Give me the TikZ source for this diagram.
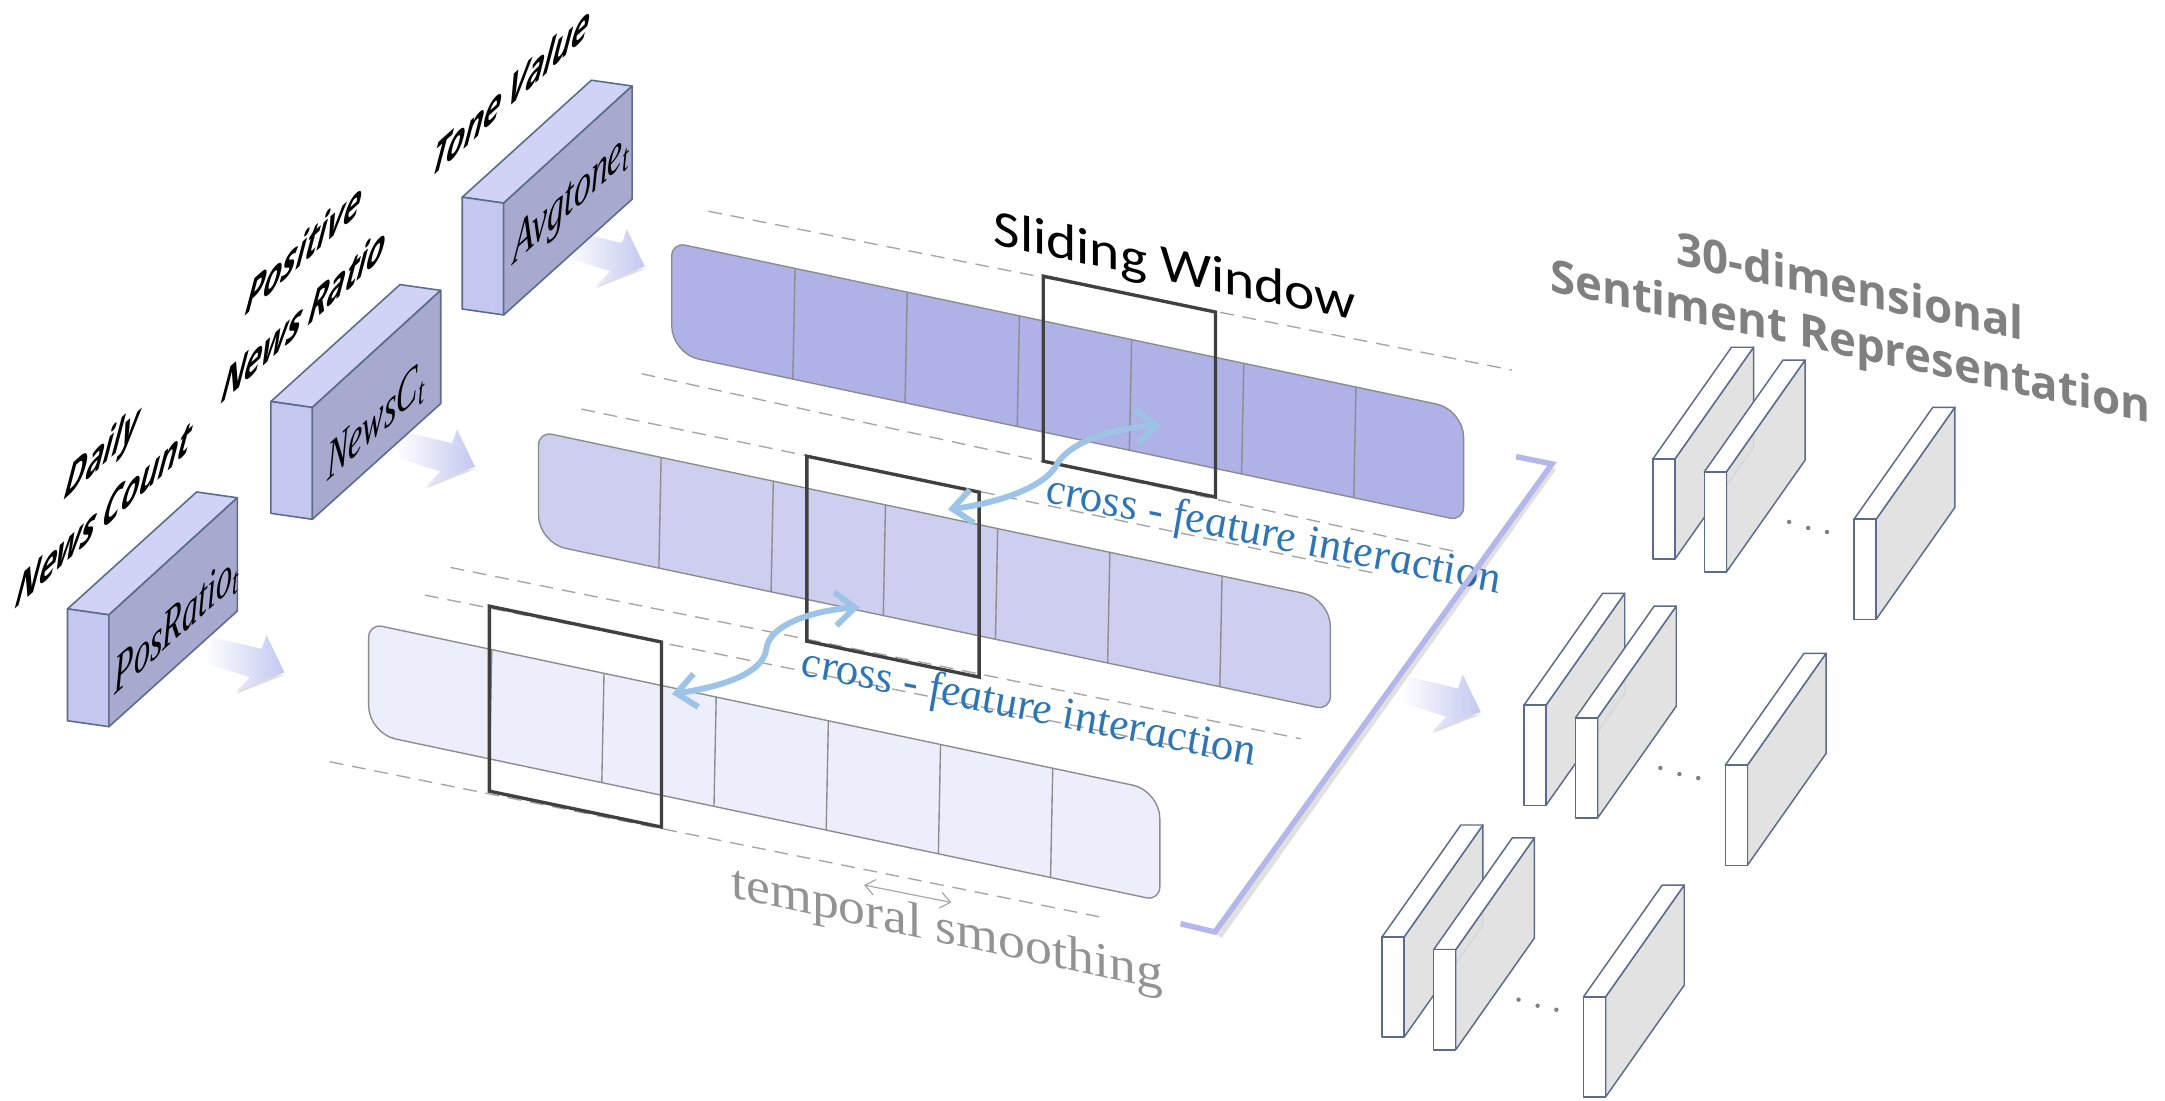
\documentclass[tikz,border=0pt]{standalone}
\usepackage{fontspec}
\setmainfont{Liberation Serif}
\newfontfamily\carlitofont{Carlito}
\newfontfamily\opensansfont{Open Sans}
\usetikzlibrary{arrows.meta,calc}
\definecolor{edgeblue}{HTML}{5B6B8C}
\definecolor{boxtop}{HTML}{D0D3F5}
\definecolor{boxleft}{HTML}{C4C7F0}
\definecolor{boxside}{HTML}{A7A9CF}
\definecolor{stripA}{HTML}{AEB2E6}
\definecolor{stripB}{HTML}{CDCEF0}
\definecolor{stripC}{HTML}{ECEEFB}
\definecolor{stripline}{HTML}{8C8C8C}
\definecolor{dashgray}{HTML}{A6A6A6}
\definecolor{winline}{HTML}{404040}
\definecolor{linkblue}{HTML}{9DC3E6}
\definecolor{textblue}{HTML}{2E75B6}
\definecolor{headgray}{HTML}{808080}
\definecolor{bracketc}{HTML}{B4B7EA}
\definecolor{slabside}{HTML}{E0E0E0}
\definecolor{arrowhead}{HTML}{C3C8F0}
\definecolor{arrowmid}{HTML}{C9CAD8}
\tikzset{
  lbl/.style args={#1,#2,#3,#4}{cm={#1,#2,#3,#4,(0,0)},transform shape,inner sep=0pt,outer sep=0pt},
  boxedge/.style={draw=edgeblue,line width=0.8pt,line join=round},
  slabedge/.style={draw=edgeblue,line width=0.75pt,line join=round},
  guide/.style={draw=dashgray,line width=0.7pt,dash pattern=on 7pt off 4.5pt},
  stripedge/.style={draw=stripline,line width=0.7pt},
  winframe/.style={draw=winline,line width=1.7pt,line join=miter},
  linkarrow/.style={draw=linkblue,line width=3pt,{Straight Barb[length=10pt,width=17pt,line width=3pt]}-{Straight Barb[length=10pt,width=17pt,line width=3pt]}},
  blockfill/.style={left color=white,middle color=arrowmid,right color=arrowhead,shading angle=90,draw=none},
}
\newcommand{\databox}[3]{%
  \begin{scope}[shift={(#1,#2)}]
    \draw[boxedge,fill=boxtop] (0,0)--(93.5,-84.7)--(123,-80.5)--(30,4.3)--cycle;
    \draw[boxedge,fill=boxleft] (0,0)--(30,4.3)--(30,85.3)--(0,81)--cycle;
    \draw[boxedge,fill=boxside] (30,4.3)--(123,-80.5)--(123,1.5)--(30,85.3)--cycle;
  \end{scope}}
\newcommand{\blockarrow}[2]{%
  \begin{scope}[shift={(#1,#2)}]
    \fill[black,opacity=0.13] (-35,15.5)--(1,1.5)--(-24,5.5)--cycle;
    \path[blockfill] (-52,-25.5)--(-16.5,-17)--(-13,-27)--(0,0)--(-35,14)--(-25,3.5)--(-58,-7)--cycle;
  \end{scope}}
\newcommand{\stripband}[6]{% x0,y0,x1,fill,first divider,height
  \pgfmathsetmacro{\yr}{#2+0.2115*(#3-#1)}
  \draw[stripedge,fill=#4]
    [rounded corners=7pt] (#1,#2+#6*0.5)--(#1,#2)
    [rounded corners=14pt] --(#3,\yr)
    [rounded corners=7pt] --(#3,\yr+#6)
    [rounded corners=14pt] --(#1,#2+#6)--(#1,#2+#6*0.5)--cycle;
  \foreach \i in {0,...,5}{
    \pgfmathsetmacro{\xd}{#5+81.25*\i}
    \pgfmathsetmacro{\yt}{#2+0.2115*(\xd+0.8-#1)}
    \pgfmathsetmacro{\yb}{#2+#6+0.2115*(\xd-0.8-#1)}
    \draw[stripedge] (\xd+0.8,\yt)--(\xd-0.8,\yb);
  }}
\newcommand{\slidewin}[2]{%
  \draw[winframe] (#1,#2)--(#1+124.7,#2+26)--(#1+124.7,#2+160)--(#1,#2+134)--cycle;}
\newcommand{\slabunit}[2]{%
  \begin{scope}[shift={(#1,#2)}]
    \draw[slabedge,fill=slabside,fill opacity=0.92] (16,0)--(73,-81)--(73,-8.5)--(16,72.5)--cycle;
    \draw[slabedge,fill=white] (0,0)--(57,-81)--(73,-81)--(16,0)--cycle;
    \draw[slabedge,fill=white] (0,0)--(16,0)--(16,72.5)--(0,72.5)--cycle;
  \end{scope}}
\newcommand{\slabgroup}[2]{%
  \begin{scope}[shift={(#1,#2)}]
    \slabunit{0}{0}
    \slabunit{37.3}{9.3}
    \slabunit{145.8}{43.5}
    \foreach \px/\py in {98.8/45.5,112.6/49.9,126.2/52.8}
      \fill[headgray] (\px,\py) circle (1.6);
  \end{scope}}
\begin{document}
\begin{tikzpicture}[x=0.7pt,y=-0.7pt]
\useasboundingbox (0,0) rectangle (1568,796.7);

% guides
\coordinate (g1a) at (513,153);   \coordinate (g1b) at (1095,268);
\coordinate (g2a) at (464.7,270.7); \coordinate (g2b) at (1053.6,399.4);
\coordinate (g3a) at (421,296.3); \coordinate (g3b) at (1000,416);
\coordinate (g4a) at (326.4,411); \coordinate (g4b) at (942,535);
\coordinate (g5a) at (307.8,431); \coordinate (g5b) at (880,546);
\coordinate (g6a) at (238.8,551.7); \coordinate (g6b) at (800.3,664.8);
\foreach \n in {1,...,6} \draw[guide] (g\n a)--(g\n b);

% strips
\stripband{486.5}{175.5}{1060}{stripA}{575}{80.5}
\stripband{390}{312.5}{963.5}{stripB}{478}{80.5}
\stripband{267}{451.6}{840}{stripC}{355.4}{79.5}

% windows
\slidewin{755.6}{200}
\slidewin{584.4}{330.4}
\slidewin{354.4}{439}

% data boxes and arrows
\blockarrow{206}{487}
\blockarrow{344}{338}
\blockarrow{467}{193}
\blockarrow{1072.4}{515.6}
\databox{48.9}{441}{}
\databox{196.2}{290.8}{}
\databox{334.8}{142.8}{}

\node[lbl={0.74,0.67,0,1.25}] (posratio) at (128,453) {\fontsize{22}{22}\selectfont\itshape PosRatio\raisebox{-3pt}{\fontsize{15}{15}\selectfont t}};
\node[lbl={0.74,0.67,0,1.25}] (newsc) at (272,307) {\fontsize{22}{22}\selectfont\itshape NewsC\raisebox{-3pt}{\fontsize{15}{15}\selectfont t}};
\node[lbl={0.78,0.71,0,1.25}] (avgtone) at (414,145) {\fontsize{22}{22}\selectfont\itshape Avgtone\raisebox{-3pt}{\fontsize{15}{15}\selectfont t}};

% box labels
\tikzset{boxlabel/.style={lbl={0.72,0.65,0.34,1.3},font=\opensansfont\bfseries\fontsize{20.5}{20.5}\selectfont}}
\node[boxlabel] (daily) at (74,330) {Daily};
\node[boxlabel] (newscount) at (76,372) {News Count};
\node[boxlabel] (positive) at (221,179) {Positive};
\node[boxlabel] (newsratio) at (221,227) {News Ratio};
\node[boxlabel] (tonevalue) at (371,65) {Tone Value};

% double arrows
\coordinate (la) at (686.5,369);
\coordinate (lb) at (840.8,307.7);
\coordinate (lc) at (486.6,502.6);
\coordinate (ld) at (622.5,439.8);
\draw[linkarrow] (la) .. controls (725,364) and (757,352) .. (765,337) .. controls (773,322) and (800,311) .. (lb);
\draw[linkarrow] (lc) .. controls (525,497) and (553,487) .. (555,470) .. controls (557,452) and (590,442) .. (ld);

% window and interaction labels
\node[lbl={1.12,-0.235,0,1},font=\carlitofont\fontsize{26}{26}\selectfont] (sliding) at (851,195) {Sliding Window};
\tikzset{crosslabel/.style={lbl={1.06,-0.212,0,1.1},text=textblue,font=\itshape\fontsize{21}{21}\selectfont}}
\node[crosslabel] (cross1) at (922,389) {cross - feature interaction};
\node[crosslabel] (cross2) at (745,514) {cross - feature interaction};

\node[lbl={1.09,-0.235,0,1},text=headgray!85,font=\fontsize{25}{25}\selectfont] (smooth) at (686,675) {temporal smoothing};
\coordinate (sa) at (625.8,641);
\coordinate (sb) at (689,653.6);
\draw[dashgray,line width=0.6pt,{Straight Barb[length=5pt,width=8pt]}-{Straight Barb[length=5pt,width=8pt]}] (sa)--(sb);

% bracket
\coordinate (ba) at (1098,330.7);
\coordinate (bb) at (1124,336);
\coordinate (bc) at (880,675);
\coordinate (bd) at (855,669);
\draw[black,opacity=0.12,line width=3pt] ($(bb)+(1,3)$) -- ($(bc)+(3,3)$);
\draw[bracketc,line width=2.8pt,line join=miter] (ba)--(bb)--(bc)--(bd);

% slabs
\slabgroup{1197}{332.5}
\slabgroup{1103.7}{510.7}
\slabgroup{1001}{678.5}

% heading
\tikzset{headlabel/.style={lbl={1.05,-0.23,0,1.05},text=headgray,font=\opensansfont\bfseries\fontsize{22}{22}\selectfont}}
\node[headlabel] (dim) at (1340,207) {30-dimensional};
\node[headlabel] (rep) at (1340,250) {Sentiment Representation};
\end{tikzpicture}
\end{document}
